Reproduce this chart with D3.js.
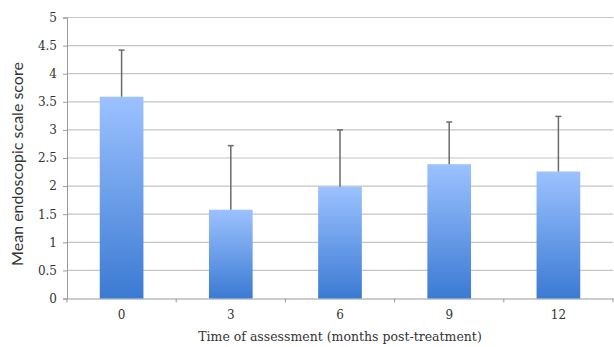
<!DOCTYPE html>
<html><head><meta charset="utf-8">
<script src="https://cdn.jsdelivr.net/npm/d3@7"></script>
<style>html,body{margin:0;padding:0;background:#fff;}svg{display:block;}</style>
</head><body><svg id="c" width="614" height="347"></svg>
<script>
const categories = ["0", "3", "6", "9", "12"];
const means = [3.59, 1.58, 1.99, 2.39, 2.26];
const errors = [0.83, 1.14, 1.01, 0.75, 0.98];
const yTicks = [0, 0.5, 1, 1.5, 2, 2.5, 3, 3.5, 4, 4.5, 5];
const yTitle = "Mean endoscopic scale score";
const xTitle = "Time of assessment (months post-treatment)";

const svg = d3.select("#c");
const L = 67, R = 613, T = 17.5, B = 298.5;
const x = d3.scaleBand().domain(categories).range([L, R]).padding(0);
const y = d3.scaleLinear().domain([0, 5]).range([B, T]);
const barW = x.bandwidth() * 0.4;

const defs = svg.append("defs");
const g = defs.append("linearGradient").attr("id", "bg").attr("x1", 0).attr("y1", 0).attr("x2", 0).attr("y2", 1);
g.append("stop").attr("offset", "0%").attr("stop-color", "#9cc2ff");
g.append("stop").attr("offset", "100%").attr("stop-color", "#3b7ad3");

// gridlines
svg.append("g").selectAll("line").data(yTicks.filter(d => d > 0)).join("line")
  .attr("x1", L).attr("x2", R).attr("y1", d => y(d)).attr("y2", d => y(d))
  .attr("stroke", "#c4c4c4").attr("stroke-width", 1.2);

// y axis
const ya = svg.append("g").attr("transform", `translate(${L},0)`)
  .call(d3.axisLeft(y).tickValues(yTicks).tickSize(4).tickPadding(6).tickFormat(d3.format("")));
ya.select(".domain").attr("stroke", "#9a9a9a");
ya.selectAll(".tick line").attr("stroke", "#9a9a9a");
ya.selectAll("text").attr("font-family", "'DejaVu Serif', serif").attr("font-size", 12).attr("fill", "#333");

// x axis
const xa = svg.append("g").attr("transform", `translate(0,${B})`)
  .call(d3.axisBottom(x).tickSize(0).tickPadding(12));
xa.select(".domain").attr("stroke", "#9a9a9a");
xa.selectAll("text").attr("font-family", "'DejaVu Serif', serif").attr("font-size", 12).attr("fill", "#333");
xa.append("g").selectAll("line").data(d3.range(categories.length + 1)).join("line")
  .attr("x1", i => L + i * x.step()).attr("x2", i => L + i * x.step())
  .attr("y1", 0).attr("y2", 4).attr("stroke", "#9a9a9a");

// bars
svg.append("g").selectAll("rect").data(categories).join("rect")
  .attr("x", (d) => x(d) + x.bandwidth() / 2 - barW / 2)
  .attr("width", barW)
  .attr("y", (d, i) => y(means[i]))
  .attr("height", (d, i) => B - y(means[i]))
  .attr("fill", "url(#bg)");

// error bars
const eb = svg.append("g").attr("stroke", "#6b6b6b").attr("stroke-width", 1.5);
categories.forEach((c, i) => {
  const cx = x(c) + x.bandwidth() / 2;
  eb.append("line").attr("x1", cx).attr("x2", cx).attr("y1", y(means[i])).attr("y2", y(means[i] + errors[i]));
  eb.append("line").attr("x1", cx - 3).attr("x2", cx + 3).attr("y1", y(means[i] + errors[i])).attr("y2", y(means[i] + errors[i]));
});

// titles
svg.append("text").attr("transform", `translate(23,164) rotate(-90)`)
  .attr("text-anchor", "middle").attr("font-family", "Lato, sans-serif").attr("font-size", 16).attr("fill", "#333")
  .text(yTitle);
svg.append("text").attr("x", 340).attr("y", 341).attr("text-anchor", "middle")
  .attr("font-family", "'DejaVu Serif', serif").attr("font-size", 12.5).attr("fill", "#333")
  .text(xTitle);
</script></body></html>
